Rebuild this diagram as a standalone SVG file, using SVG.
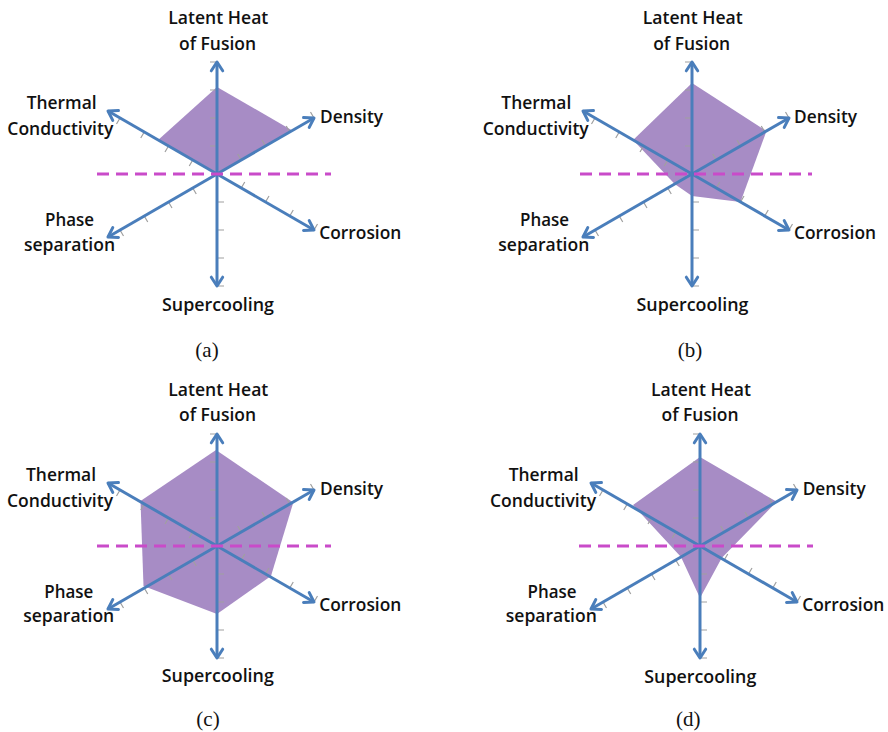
<svg xmlns="http://www.w3.org/2000/svg" xmlns:xlink="http://www.w3.org/1999/xlink" width="888" height="732" viewBox="0 0 888 732">
<style>
.bg{fill:#ffffff}
.area{fill:#A78CC5;stroke:none}
.axis{stroke:#4A7EBB;stroke-width:3;fill:none;marker-end:url(#arr)}
.tick{stroke:#A0A0A0;stroke-width:1.2;fill:none}
.dash{stroke:#C94BC9;stroke-width:3;stroke-dasharray:12 7;fill:none}
.lbl{font-family:"Open Sans","Liberation Sans",sans-serif;font-weight:600;font-size:17.5px;fill:#111111}
.mid{text-anchor:middle}
.cap{font-family:"Liberation Serif","Times New Roman",serif;font-size:21px;fill:#111;text-anchor:middle}
</style>
<defs>
<marker id="arr" markerUnits="userSpaceOnUse" orient="auto" overflow="visible" refX="0" refY="0" markerWidth="20" markerHeight="20">
<path d="M-8.8,-5.7 L0,0 L-8.8,5.7" fill="none" stroke="#4A7EBB" stroke-width="3" stroke-linecap="round" stroke-linejoin="round"/>
</marker>
<path id="ticks" class="tick" d="M0,-28h-7M0,-56h-7M0,-84h-7M0,-112h-7M0,28h7M0,56h7M0,84h7M0,112h7M24.25,-14l-3.5,-6.06M48.5,-28l-3.5,-6.06M72.75,-42l-3.5,-6.06M97,-56l-3.5,-6.06M24.25,14l3.5,-6.06M48.5,28l3.5,-6.06M72.75,42l3.5,-6.06M97,56l3.5,-6.06M-24.25,14l3.5,6.06M-48.5,28l3.5,6.06M-72.75,42l3.5,6.06M-97,56l3.5,6.06M-24.25,-14l-3.5,6.06M-48.5,-28l-3.5,6.06M-72.75,-42l-3.5,6.06M-97,-56l-3.5,6.06"/>
</defs>
<rect class="bg" x="0" y="0" width="888" height="732"/>

<!-- Chart (a) -->
<g id="chart-a">
<polygon class="area" points="217,87 292.3,130.5 217,174 158.1,140"/>
<use xlink:href="#ticks" href="#ticks" transform="translate(217,174)"/>
<g id="connectors-a">
<path class="axis" d="M217,174L217,62"/>
<path class="axis" d="M217,174L217,286"/>
<path class="axis" d="M217,174L314,118"/>
<path class="axis" d="M217,174L314,230"/>
<path class="axis" d="M217,174L108,237"/>
<path class="axis" d="M217,174L108,111"/>
</g>
<path class="dash" d="M97,174H331"/>
<g id="a-latent"><text class="lbl mid" x="218.3" y="24" textLength="100" lengthAdjust="spacingAndGlyphs">Latent Heat</text><text class="lbl mid" x="217.5" y="50" textLength="77" lengthAdjust="spacingAndGlyphs">of Fusion</text></g>
<g id="a-thermal"><text class="lbl mid" x="61.7" y="109" textLength="70" lengthAdjust="spacingAndGlyphs">Thermal</text><text class="lbl mid" x="60.3" y="134.5" textLength="106" lengthAdjust="spacingAndGlyphs">Conductivity</text></g>
<g id="a-density"><text class="lbl" x="320" y="123" textLength="63" lengthAdjust="spacingAndGlyphs">Density</text></g>
<g id="a-corrosion"><text class="lbl" x="319.3" y="239" textLength="82" lengthAdjust="spacingAndGlyphs">Corrosion</text></g>
<g id="a-phase"><text class="lbl mid" x="69.5" y="226" textLength="49" lengthAdjust="spacingAndGlyphs">Phase</text><text class="lbl mid" x="69.5" y="250.5" textLength="91" lengthAdjust="spacingAndGlyphs">separation</text></g>
<g id="a-super"><text class="lbl mid" x="218" y="310.5" textLength="112" lengthAdjust="spacingAndGlyphs">Supercooling</text></g>
<text class="cap" x="207" y="357">(a)</text>
</g>

<!-- Chart (b) -->
<g id="chart-b">
<polygon class="area" points="692,83 766.5,131 740.5,202 692,196 674.7,184 633.1,140"/>
<use xlink:href="#ticks" href="#ticks" transform="translate(692,174)"/>
<g id="connectors-b">
<path class="axis" d="M692,174L692,62"/>
<path class="axis" d="M692,174L692,286"/>
<path class="axis" d="M692,174L789,118"/>
<path class="axis" d="M692,174L789,230"/>
<path class="axis" d="M692,174L583,237"/>
<path class="axis" d="M692,174L583,111"/>
</g>
<path class="dash" d="M580,174H812"/>
<g id="b-latent"><text class="lbl mid" x="692.7" y="24" textLength="100" lengthAdjust="spacingAndGlyphs">Latent Heat</text><text class="lbl mid" x="691.7" y="50" textLength="77" lengthAdjust="spacingAndGlyphs">of Fusion</text></g>
<g id="b-thermal"><text class="lbl mid" x="536.3" y="109" textLength="70" lengthAdjust="spacingAndGlyphs">Thermal</text><text class="lbl mid" x="535.7" y="135" textLength="106" lengthAdjust="spacingAndGlyphs">Conductivity</text></g>
<g id="b-density"><text class="lbl" x="794" y="122.7" textLength="63" lengthAdjust="spacingAndGlyphs">Density</text></g>
<g id="b-corrosion"><text class="lbl" x="794" y="238.5" textLength="82" lengthAdjust="spacingAndGlyphs">Corrosion</text></g>
<g id="b-phase"><text class="lbl mid" x="544.5" y="226" textLength="49" lengthAdjust="spacingAndGlyphs">Phase</text><text class="lbl mid" x="543.8" y="250.5" textLength="91" lengthAdjust="spacingAndGlyphs">separation</text></g>
<g id="b-super"><text class="lbl mid" x="692.5" y="310.5" textLength="112" lengthAdjust="spacingAndGlyphs">Supercooling</text></g>
<text class="cap" x="690" y="357">(b)</text>
</g>

<!-- Chart (c) -->
<g id="chart-c">
<polygon class="area" points="216,450 293.3,502.5 271,576 217,614 143.5,586 140.5,501"/>
<use xlink:href="#ticks" href="#ticks" transform="translate(217,546)"/>
<g id="connectors-c">
<path class="axis" d="M217,546L217,434"/>
<path class="axis" d="M217,546L217,658"/>
<path class="axis" d="M217,546L314,490"/>
<path class="axis" d="M217,546L314,602"/>
<path class="axis" d="M217,546L108,609"/>
<path class="axis" d="M217,546L108,483"/>
</g>
<path class="dash" d="M97,546H331"/>
<g id="c-latent"><text class="lbl mid" x="218.3" y="395.5" textLength="100" lengthAdjust="spacingAndGlyphs">Latent Heat</text><text class="lbl mid" x="217.5" y="421" textLength="77" lengthAdjust="spacingAndGlyphs">of Fusion</text></g>
<g id="c-thermal"><text class="lbl mid" x="61" y="481" textLength="70" lengthAdjust="spacingAndGlyphs">Thermal</text><text class="lbl mid" x="60" y="506.5" textLength="106" lengthAdjust="spacingAndGlyphs">Conductivity</text></g>
<g id="c-density"><text class="lbl" x="320" y="495" textLength="63" lengthAdjust="spacingAndGlyphs">Density</text></g>
<g id="c-corrosion"><text class="lbl" x="319.3" y="611" textLength="82" lengthAdjust="spacingAndGlyphs">Corrosion</text></g>
<g id="c-phase"><text class="lbl mid" x="68.8" y="597.7" textLength="49" lengthAdjust="spacingAndGlyphs">Phase</text><text class="lbl mid" x="68.7" y="622" textLength="91" lengthAdjust="spacingAndGlyphs">separation</text></g>
<g id="c-super"><text class="lbl mid" x="217.8" y="682" textLength="112" lengthAdjust="spacingAndGlyphs">Supercooling</text></g>
<text class="cap" x="208" y="726">(c)</text>
</g>

<!-- Chart (d) -->
<g id="chart-d">
<polygon class="area" points="700,457 776.7,501.7 721.7,558 700,598 681,557 633,505"/>
<use xlink:href="#ticks" href="#ticks" transform="translate(700,546)"/>
<g id="connectors-d">
<path class="axis" d="M700,546L700,434"/>
<path class="axis" d="M700,546L700,658"/>
<path class="axis" d="M700,546L797,490"/>
<path class="axis" d="M700,546L797,602"/>
<path class="axis" d="M700,546L591,609"/>
<path class="axis" d="M700,546L591,483"/>
</g>
<path class="dash" d="M579,546H813"/>
<g id="d-latent"><text class="lbl mid" x="701" y="395.5" textLength="100" lengthAdjust="spacingAndGlyphs">Latent Heat</text><text class="lbl mid" x="700" y="421" textLength="77" lengthAdjust="spacingAndGlyphs">of Fusion</text></g>
<g id="d-thermal"><text class="lbl mid" x="543.7" y="481" textLength="70" lengthAdjust="spacingAndGlyphs">Thermal</text><text class="lbl mid" x="543" y="506.5" textLength="106" lengthAdjust="spacingAndGlyphs">Conductivity</text></g>
<g id="d-density"><text class="lbl" x="802.7" y="494.5" textLength="63" lengthAdjust="spacingAndGlyphs">Density</text></g>
<g id="d-corrosion"><text class="lbl" x="802.3" y="610.5" textLength="82" lengthAdjust="spacingAndGlyphs">Corrosion</text></g>
<g id="d-phase"><text class="lbl mid" x="552" y="598" textLength="49" lengthAdjust="spacingAndGlyphs">Phase</text><text class="lbl mid" x="551.3" y="622.3" textLength="91" lengthAdjust="spacingAndGlyphs">separation</text></g>
<g id="d-super"><text class="lbl mid" x="700.3" y="683" textLength="112" lengthAdjust="spacingAndGlyphs">Supercooling</text></g>
<text class="cap" x="688.3" y="726">(d)</text>
</g>
</svg>
